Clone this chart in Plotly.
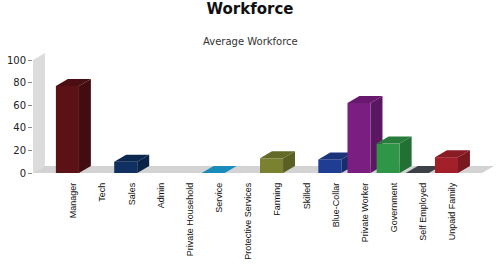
import plotly.graph_objects as go

categories = ["Manager", "Tech", "Sales", "Admin", "Private Household", "Service",
              "Protective Services", "Farming", "Skilled", "Blue-Collar",
              "Private Worker", "Government", "Self Employed", "Unpaid Family"]
values = [77, None, 10, None, None, 0, None, 13, None, 12, 62, 26, 0, 14]
front_colors = ["#5b1116", "#555555", "#0f3060", "#555555", "#555555", "#1a8cbc", "#555555",
                "#7a8231", "#555555", "#1f3d92", "#7a1e82", "#2f9647", "#3c4048", "#a3202b"]
top_colors = ["#4b0e12", "#444444", "#0c2850", "#444444", "#444444", "#1a8cbc", "#444444",
              "#636a28", "#444444", "#1a337a", "#66196d", "#277d3b", "#3c4048", "#881b24"]
side_colors = ["#420c10", "#3a3a3a", "#0a2347", "#3a3a3a", "#3a3a3a", "#157aa5", "#3a3a3a",
               "#5a6024", "#3a3a3a", "#172d6c", "#5c1763", "#237035", "#33363d", "#7a1820"]
y_ticks = [0, 20, 40, 60, 80, 100]

# geometry (category units / value units)
BW = 0.79      # bar front width
DX = 0.41      # depth offset x
DY = 6.2       # depth offset y
XMIN, XMAX = -1.18, 14.63
YMIN, YMAX = -1.77, 108.85
FLOOR_END = 14.22

fig = go.Figure()

def poly(xs, ys, color):
    fig.add_trace(go.Scatter(x=xs + [xs[0]], y=ys + [ys[0]], mode="lines", fill="toself",
                             fillcolor=color, line=dict(width=0, color=color),
                             hoverinfo="skip", showlegend=False))

# back/left wall
top = y_ticks[-1]
poly([XMIN, XMIN + DX, XMIN + DX, XMIN], [0, DY, top + DY, top], "#dcdcdc")
# floor
poly([XMIN, FLOOR_END, FLOOR_END + DX, XMIN + DX], [0, 0, DY, DY], "#d3d3d3")

for i, v in enumerate(values):
    if v is None:
        continue
    x0, x1 = i - BW / 2, i + BW / 2
    if v > 0:
        poly([x1, x1 + DX, x1 + DX, x1], [0, DY, v + DY, v], side_colors[i])
        poly([x0, x1, x1, x0], [0, 0, v, v], front_colors[i])
    poly([x0, x1, x1 + DX, x0 + DX], [v, v, v + DY, v + DY], top_colors[i])

fig.update_layout(
    width=500, height=280,
    margin=dict(l=33, r=6, t=50, b=105),
    paper_bgcolor="white", plot_bgcolor="white",
    showlegend=False,
    title=dict(text="<b>Workforce</b>", x=0.5, xref="container", xanchor="center",
               y=1 - 9 / 280, yref="container", yanchor="middle",
               font=dict(family="DejaVu Sans", size=15, color="#111111")),
    annotations=[dict(text="Average Workforce", xref="paper", yref="paper",
                      x=(250 - 33) / 461, y=(175 - 42) / 125, xanchor="center", yanchor="middle",
                      showarrow=False, font=dict(family="DejaVu Sans", size=10, color="#333333"))],
    xaxis=dict(range=[XMIN, XMAX], showgrid=False, zeroline=False, showline=False,
               tickmode="array", tickvals=[i + DX / 2 for i in range(len(categories))],
               ticktext=categories, tickangle=-90, ticks="", ticklabelstandoff=5,
               tickfont=dict(family="Liberation Sans", size=9, color="#111111")),
    yaxis=dict(range=[YMIN, YMAX], showgrid=False, zeroline=False, showline=False,
               tickmode="array", tickvals=y_ticks, ticks="outside", ticklen=4,
               tickcolor="#888888",
               tickfont=dict(family="DejaVu Sans", size=10, color="#222222")),
)

fig.write_html("out.html")
